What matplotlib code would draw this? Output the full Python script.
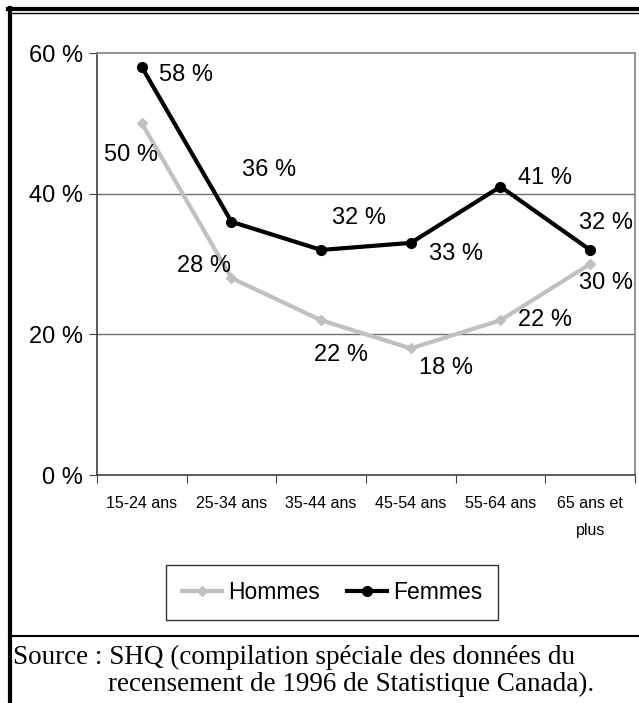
import matplotlib
matplotlib.use("Agg")
import matplotlib.pyplot as plt
from matplotlib import font_manager as fm
from matplotlib.lines import Line2D

categories = ["15-24 ans", "25-34 ans", "35-44 ans", "45-54 ans", "55-64 ans", "65 ans et\nplus"]
hommes = [50, 28, 22, 18, 22, 30]
femmes = [58, 36, 32, 33, 41, 32]
yticks = [0, 20, 40, 60]
ytick_labels = ["0 %", "20 %", "40 %", "60 %"]
source_line1 = "Source : SHQ (compilation spéciale des données du"
source_line2 = "recensement de 1996 de Statistique Canada)."

names = {f.name for f in fm.fontManager.ttflist}
sans = ["Liberation Sans Narrow", "Liberation Sans", "DejaVu Sans"]
sans = [n for n in sans if n in names] or ["DejaVu Sans"]
serif = ["Liberation Serif", "DejaVu Serif"]

fig = plt.figure(figsize=(6.39, 7.03), dpi=100)
ax = fig.add_axes([97/639, 1 - 475/703, (635-97)/639, (475-53)/703])

x = list(range(len(categories)))
ax.plot(x, hommes, color="#c0c0c0", lw=3, marker="D", ms=5, zorder=3)
ax.plot(x, femmes, color="black", lw=3, marker="o", ms=7, zorder=4)

ax.set_xlim(-0.5, 5.5)
ax.set_ylim(0, 60)
ax.set_yticks(yticks)
ax.set_yticklabels(ytick_labels, fontsize=17, family=sans)
ax.set_xticks([i + 0.5 for i in range(-1, 6)])
ax.set_xticklabels([])
ax.set_xticks(x, minor=True)
ax.set_xticklabels(categories, minor=True, fontsize=11.5, family=sans, linespacing=2.0)
ax.tick_params(axis="x", which="minor", length=0, pad=15)
ax.tick_params(axis="x", which="major", length=6, color="#404040", direction="out")
ax.tick_params(axis="y", length=6, color="#404040", direction="out", pad=4)
for v in [20, 40]:
    ax.axhline(v, color="#707070", lw=1, zorder=1)
ax.spines["left"].set_color("#404040")
ax.spines["bottom"].set_color("#404040")
ax.spines["top"].set_color("#808080")
ax.spines["right"].set_color("#808080")
for s in ax.spines.values():
    s.set_linewidth(1.2)

# label offsets in pixels (dx right, dy up)
f_off = [(44, -8), (38, 52), (38, 32), (45, -11), (44, 9), (16, 27)]
h_off = [(-11, -32), (-27, 12), (20, -35), (35, -20), (44, 0), (16, -19)]
for i in x:
    ax.annotate(f"{femmes[i]} %", (i, femmes[i]), xytext=(f_off[i][0]*0.72, f_off[i][1]*0.72),
                textcoords="offset points", ha="center", va="center", fontsize=17, family=sans)
    ax.annotate(f"{hommes[i]} %", (i, hommes[i]), xytext=(h_off[i][0]*0.72, h_off[i][1]*0.72),
                textcoords="offset points", ha="center", va="center", fontsize=17, family=sans)

handles = [Line2D([], [], color="#c0c0c0", lw=3, marker="D", ms=5),
           Line2D([], [], color="black", lw=3, marker="o", ms=7)]
leg = fig.legend(handles, ["Hommes", "Femmes"], loc="center", bbox_to_anchor=(332/639, 1 - 592.5/703),
                 ncol=2, frameon=True, fancybox=False, edgecolor="black", prop={"family": sans, "size": 16.5},
                 handlelength=1.75, handletextpad=0.25, columnspacing=1.2, borderpad=0.7)
leg.get_frame().set_linewidth(1)

# outer frame
fig.add_artist(Line2D([8/639, 1], [1 - 9/703]*2, color="black", lw=3))
fig.add_artist(Line2D([11/639, 1], [1 - 12.5/703]*2, color="black", lw=1))
fig.add_artist(Line2D([9.5/639, 9.5/639], [0, 1 - 8/703], color="black", lw=3))
fig.add_artist(Line2D([9/639, 1], [1 - 636/703]*2, color="black", lw=1.5))

fig.text(13/639, 1 - 664/703, source_line1, fontsize=19.5, family=serif, va="baseline", ha="left")
fig.text(108/639, 1 - 691/703, source_line2, fontsize=19.5, family=serif, va="baseline", ha="left")

fig.savefig("out.png", dpi=100)
